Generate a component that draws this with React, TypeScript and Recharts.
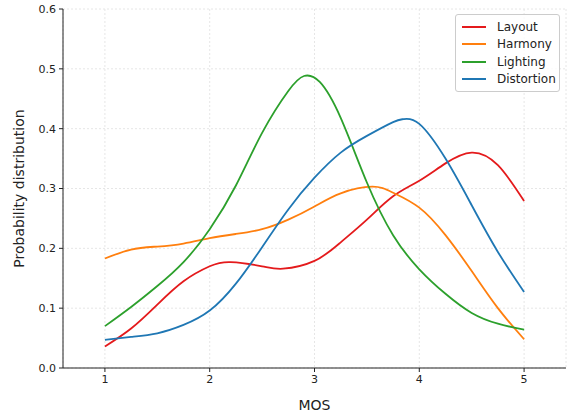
import { LineChart, Line, XAxis, YAxis, CartesianGrid } from 'recharts';

const mosTicks = [1, 2, 3, 4, 5];
const probTicks = [0, 0.1, 0.2, 0.3, 0.4, 0.5, 0.6];

const layoutX = [1, 1.25, 1.5, 1.75, 2, 2.2, 2.5, 2.7, 3, 3.25, 3.5, 3.75, 4, 4.25, 4.5, 4.75, 5];
const layoutY = [0.036, 0.066, 0.106, 0.145, 0.17, 0.177, 0.17, 0.166, 0.179, 0.21, 0.248, 0.287, 0.313, 0.342, 0.36, 0.339, 0.279];

const harmonyX = [1, 1.25, 1.5, 1.75, 2, 2.25, 2.5, 2.75, 3, 3.25, 3.55, 3.75, 4, 4.25, 4.5, 4.75, 5];
const harmonyY = [0.183, 0.198, 0.203, 0.208, 0.217, 0.224, 0.232, 0.248, 0.27, 0.292, 0.303, 0.293, 0.268, 0.222, 0.162, 0.1, 0.048];

const lightingX = [1, 1.25, 1.5, 1.75, 2, 2.25, 2.5, 2.75, 2.9, 3.05, 3.25, 3.5, 3.75, 4, 4.25, 4.5, 4.75, 5];
const lightingY = [0.07, 0.102, 0.137, 0.177, 0.232, 0.305, 0.393, 0.463, 0.488, 0.478, 0.418, 0.31, 0.222, 0.165, 0.124, 0.092, 0.074, 0.064];

const distortionX = [1, 1.25, 1.5, 1.75, 2, 2.25, 2.5, 2.75, 3, 3.25, 3.5, 3.75, 3.85, 4, 4.25, 4.5, 4.75, 5];
const distortionY = [0.047, 0.052, 0.058, 0.072, 0.096, 0.141, 0.202, 0.265, 0.318, 0.36, 0.388, 0.411, 0.416, 0.408, 0.35, 0.272, 0.194, 0.127];

const toPoints = (xs: number[], ys: number[]) => xs.map((x, i) => ({ x, y: ys[i] }));

const series = [
  { name: 'Layout', color: '#e41a1c', data: toPoints(layoutX, layoutY) },
  { name: 'Harmony', color: '#ff7f0e', data: toPoints(harmonyX, harmonyY) },
  { name: 'Lighting', color: '#2ca02c', data: toPoints(lightingX, lightingY) },
  { name: 'Distortion', color: '#1f77b4', data: toPoints(distortionX, distortionY) },
];

const font = '"DejaVu Sans", sans-serif';

const LegendBox = () => (
  <div
    style={{
      position: 'absolute',
      left: 455,
      top: 14,
      width: 105,
      boxSizing: 'border-box',
      border: '1px solid #cccccc',
      borderRadius: 3,
      background: 'rgba(255,255,255,0.8)',
      padding: '3px 0 3px 6px',
      fontFamily: font,
      fontSize: 12,
      color: '#222',
    }}
  >
    {series.map((s) => (
      <div key={s.name} style={{ display: 'flex', alignItems: 'center', height: 17.5 }}>
        <span style={{ display: 'inline-block', width: 24, height: 2, background: s.color, marginRight: 11 }} />
        <span>{s.name}</span>
      </div>
    ))}
  </div>
);

export default function App() {
  return (
    <div style={{ position: 'absolute', left: 0, top: 0, width: 569, height: 413, background: '#fff' }}>
      <LineChart width={569} height={413} margin={{ top: 9, right: 3, bottom: 0, left: 8 }}>
        <CartesianGrid stroke="#e6e6e6" strokeDasharray="2 2" />
        <XAxis
          type="number"
          dataKey="x"
          domain={[0.6, 5.4]}
          ticks={mosTicks}
          allowDataOverflow
          height={45}
          tickSize={4}
          tickMargin={3}
          stroke="#222"
          tick={{ fill: '#222', fontSize: 11, fontFamily: font }}
          label={{ value: 'MOS', position: 'insideBottom', offset: 3, fill: '#222', fontSize: 14, fontFamily: font }}
        />
        <YAxis
          type="number"
          dataKey="y"
          domain={[0, 0.6]}
          ticks={probTicks}
          width={55}
          tickSize={4}
          tickMargin={3}
          stroke="#222"
          tickFormatter={(v: number) => v.toFixed(1)}
          tick={{ fill: '#222', fontSize: 11, fontFamily: font }}
          label={{
            value: 'Probability distribution',
            angle: -90,
            position: 'insideLeft',
            offset: 11,
            style: { textAnchor: 'middle' },
            fill: '#222',
            fontSize: 14,
            fontFamily: font,
          }}
        />
        {series.map((s) => (
          <Line
            key={s.name}
            data={s.data}
            dataKey="y"
            name={s.name}
            type="natural"
            stroke={s.color}
            strokeWidth={1.8}
            dot={false}
            isAnimationActive={false}
          />
        ))}
      </LineChart>
      <LegendBox />
    </div>
  );
}
